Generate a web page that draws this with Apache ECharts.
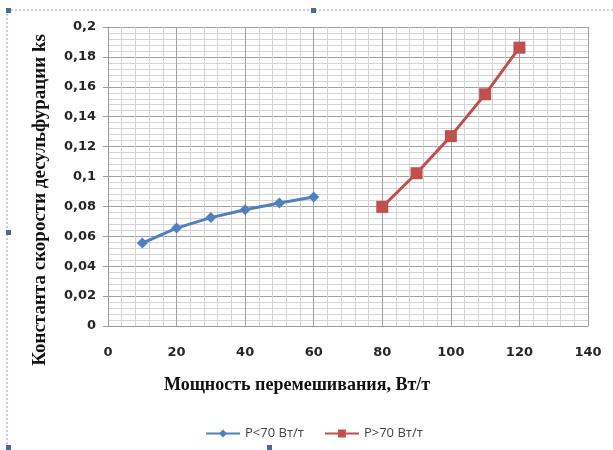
<!DOCTYPE html>
<html>
<head>
<meta charset="utf-8">
<script src="https://cdn.jsdelivr.net/npm/echarts@6/dist/echarts.min.js"></script>
<style>
  html, body { margin: 0; padding: 0; background: #fff; }
  #chart { width: 613px; height: 450px; }
</style>
</head>
<body>
<div id="chart"></div>
<script>
// данные
const lowX = [10, 20, 30, 40, 50, 60]
const lowY = [0.0555, 0.0655, 0.0725, 0.0778, 0.0823, 0.0863]
const highX = [80, 90, 100, 110, 120]
const highY = [0.0797, 0.1022, 0.127, 0.155, 0.1862]
const seriesNames = ['P<70 Вт/т', 'P>70 Вт/т']
const xTitle = 'Мощность перемешивания, Вт/т'
const yTitle = 'Константа скорости десульфурации ks'

const pairs = (xs, ys) => xs.map((x, i) => [x, ys[i]])

const chart = echarts.init(document.getElementById('chart'))

const tickLabel = {
  fontFamily: 'DejaVu Sans',
  fontWeight: 'bold',
  fontSize: 13,
  color: '#262626'
}
const titleStyle = {
  fontFamily: 'Liberation Serif',
  fontWeight: 'bold',
  fontSize: 18,
  fill: '#111',
  align: 'center',
  verticalAlign: 'middle'
}

chart.setOption({
  animation: false,
  grid: { left: 108, right: 25, top: 27, bottom: 124 },
  legend: {
    top: 422,
    left: 200,
    itemWidth: 34,
    itemHeight: 10,
    itemGap: 20,
    textStyle: { fontFamily: 'Open Sans', fontSize: 13, color: '#444' },
    data: seriesNames
  },
  xAxis: {
    type: 'value',
    min: 0, max: 140, interval: 20,
    axisLine: { show: true, lineStyle: { color: '#999' } },
    axisTick: { show: false },
    axisLabel: Object.assign({ margin: 20 }, tickLabel),
    splitLine: { show: true, lineStyle: { color: '#a0a0a0', width: 1 } },
    minorTick: { show: false, splitNumber: 5 },
    minorSplitLine: { show: true, lineStyle: { color: '#d4d4d4', width: 1 } }
  },
  yAxis: {
    type: 'value',
    min: 0, max: 0.2, interval: 0.02,
    axisLine: { show: true, lineStyle: { color: '#999' } },
    axisTick: { show: true, length: 5, inside: false, lineStyle: { color: '#999' } },
    axisLabel: Object.assign({
      margin: 12,
      formatter: v => String(+v.toFixed(3)).replace('.', ',')
    }, tickLabel),
    splitLine: { show: true, lineStyle: { color: '#a0a0a0', width: 1 } },
    minorTick: { show: false, splitNumber: 5 },
    minorSplitLine: { show: true, lineStyle: { color: '#d4d4d4', width: 1 } }
  },
  graphic: [
    {
      type: 'text',
      x: 40, y: 200,
      rotation: Math.PI / 2,
      style: Object.assign({ text: yTitle }, titleStyle, { fontSize: 19 })
    },
    {
      type: 'text',
      x: 297, y: 385,
      style: Object.assign({ text: xTitle }, titleStyle)
    },
    // рамка выделения
    { type: 'line', shape: { x1: 7, y1: 10, x2: 613, y2: 10 }, style: { stroke: '#8aa0c0', lineDash: [2, 2], lineWidth: 1 } },
    { type: 'line', shape: { x1: 7, y1: 10, x2: 7, y2: 450 }, style: { stroke: '#8aa0c0', lineDash: [2, 2], lineWidth: 1 } },
    { type: 'rect', shape: { x: 6, y: 8, width: 5, height: 5 }, style: { fill: '#4a6a9a' } },
    { type: 'rect', shape: { x: 311, y: 8, width: 5, height: 5 }, style: { fill: '#4a6a9a' } },
    { type: 'rect', shape: { x: 6, y: 230, width: 5, height: 5 }, style: { fill: '#4a6a9a' } },
    { type: 'rect', shape: { x: 267, y: 445, width: 5, height: 5 }, style: { fill: '#4a6a9a' } },
    { type: 'rect', shape: { x: 6, y: 445, width: 5, height: 5 }, style: { fill: '#4a6a9a' } }
  ],
  series: [
    {
      name: seriesNames[0],
      type: 'line',
      data: pairs(lowX, lowY),
      symbol: 'diamond',
      symbolSize: 11,
      color: '#4F81BD',
      lineStyle: { width: 3 }
    },
    {
      name: seriesNames[1],
      type: 'line',
      data: pairs(highX, highY),
      symbol: 'rect',
      symbolSize: 12,
      color: '#C0504D',
      lineStyle: { width: 3 }
    }
  ]
})
</script>
</body>
</html>
